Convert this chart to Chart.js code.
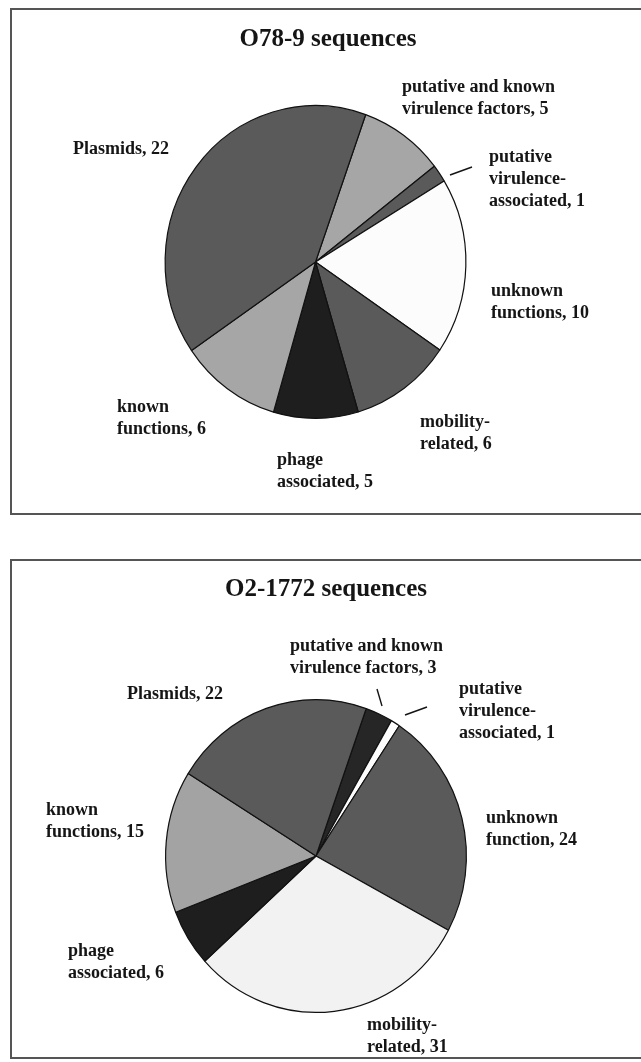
<!DOCTYPE html>
<html>
<head>
<meta charset="utf-8">
<title>O78-9 and O2-1772 sequences</title>
<script src="https://cdn.jsdelivr.net/npm/chart.js@4.4.1/dist/chart.umd.min.js"></script>
<style>
  html, body { margin: 0; padding: 0; background: #fff; }
  body { width: 641px; height: 1062px; position: relative; overflow: hidden; }
  .frame { position: absolute; left: 10px; width: 640px; border: 2px solid #555; box-sizing: border-box; }
  #frameTop { top: 8px; height: 507px; }
  #frameBot { top: 559px; height: 500px; }
  canvas { position: absolute; left: 0; }
  #chartTop { top: 0; }
  #chartBot { top: 536px; }
</style>
</head>
<body>
<div class="frame" id="frameTop"></div>
<div class="frame" id="frameBot"></div>
<canvas id="chartTop" width="641" height="536"></canvas>
<canvas id="chartBot" width="641" height="526"></canvas>
<script>
'use strict';

// ---- data (clockwise from the top of each pie; "|" marks a label line break)
const TOP_TITLE  = 'O78-9 sequences';
const TOP_LABELS = ['putative and known|virulence factors', 'putative|virulence-|associated', 'unknown|functions',
                    'mobility-|related', 'phage|associated', 'known|functions', 'Plasmids'];
const TOP_VALUES = [5, 1, 10, 6, 5, 6, 22];
const TOP_COLORS = ['#a6a6a6', '#5a5a5a', '#fcfcfc', '#5a5a5a', '#1e1e1e', '#a6a6a6', '#5a5a5a'];

const BOT_TITLE  = 'O2-1772 sequences';
const BOT_LABELS = ['putative and known|virulence factors', 'putative|virulence-|associated', 'unknown|function',
                    'mobility-|related', 'phage|associated', 'known|functions', 'Plasmids'];
const BOT_VALUES = [3, 1, 24, 31, 6, 15, 22];
const BOT_COLORS = ['#262626', '#fdfdfd', '#5a5a5a', '#f2f2f2', '#1e1e1e', '#a3a3a3', '#5a5a5a'];

// ---- layout (label anchors: left x, centre y of first line, canvas coords)
const TOP_POS = [[402, 87], [489, 157], [491, 291], [420, 422], [277, 460], [117, 407], [73, 149]];
const TOP_LEADERS = [[450, 175, 472, 167]];
const BOT_POS = [[290, 110], [459, 153], [486, 282], [367, 489], [68, 415], [46, 274], [127, 158]];
const BOT_LEADERS = [[377, 153, 382, 170], [405, 179, 427, 171]];

const SERIF = '"Liberation Serif", "Times New Roman", serif';

// pie is slightly taller than wide in the original
const ellipsePlugin = {
  id: 'ellipse',
  beforeDatasetsDraw(chart, args, opts) {
    const a = chart.chartArea, ctx = chart.ctx;
    const cx = (a.left + a.right) / 2, cy = (a.top + a.bottom) / 2;
    ctx.save();
    ctx.translate(cx, cy);
    ctx.scale(1, opts.ratio || 1);
    ctx.translate(-cx, -cy);
  },
  afterDatasetsDraw(chart) { chart.ctx.restore(); }
};

const panelTextPlugin = {
  id: 'panelText',
  afterDraw(chart, args, opts) {
    const ctx = chart.ctx;
    ctx.save();
    ctx.fillStyle = '#151515';
    ctx.textBaseline = 'middle';
    ctx.textAlign = 'center';
    ctx.font = 'bold 25px ' + SERIF;
    ctx.fillText(opts.title, opts.titleX, opts.titleY);

    ctx.textAlign = 'left';
    ctx.font = 'bold 18px ' + SERIF;
    const vals = chart.data.datasets[0].data;
    chart.data.labels.forEach((name, i) => {
      const lines = (name + ', ' + vals[i]).split('|');
      const [x, y] = opts.pos[i];
      lines.forEach((ln, k) => ctx.fillText(ln, x, y + k * 22));
    });

    ctx.strokeStyle = '#151515';
    ctx.lineWidth = 1.4;
    opts.leaders.forEach(l => {
      ctx.beginPath(); ctx.moveTo(l[0], l[1]); ctx.lineTo(l[2], l[3]); ctx.stroke();
    });
    ctx.restore();
  }
};

function makePie(id, labels, values, colors, padding, text) {
  return new Chart(document.getElementById(id), {
    type: 'pie',
    data: {
      labels,
      datasets: [{ data: values, backgroundColor: colors, borderColor: '#111', borderWidth: 1.2 }]
    },
    options: {
      responsive: false,
      animation: false,
      rotation: 19.5,
      layout: { padding },
      plugins: {
        legend: { display: false },
        tooltip: { enabled: false },
        ellipse: { ratio: 1.04 },
        panelText: text
      }
    },
    plugins: [ellipsePlugin, panelTextPlugin]
  });
}

makePie('chartTop', TOP_LABELS, TOP_VALUES, TOP_COLORS,
  { left: 164, right: 174, top: 111, bottom: 123 },
  { title: TOP_TITLE, titleX: 328, titleY: 40, pos: TOP_POS, leaders: TOP_LEADERS });

makePie('chartBot', BOT_LABELS, BOT_VALUES, BOT_COLORS,
  { left: 165, right: 174, top: 169, bottom: 55 },
  { title: BOT_TITLE, titleX: 326, titleY: 54, pos: BOT_POS, leaders: BOT_LEADERS });
</script>
</body>
</html>
